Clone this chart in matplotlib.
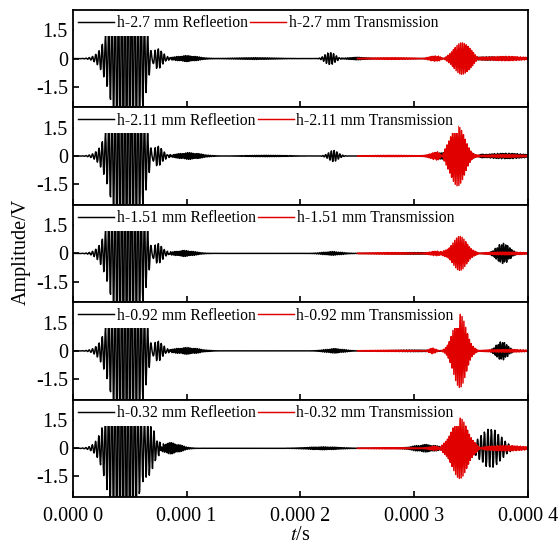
import numpy as np
import matplotlib.pyplot as plt
from matplotlib.ticker import FixedLocator

plt.rcParams['font.family'] = 'Liberation Serif'
plt.rcParams['mathtext.fontset'] = 'stix'

# thickness of each specimen (mm), top panel first
thickness = ['2.7', '2.11', '1.51', '0.92', '0.32']

# sampled time base and the moment the transmitted record begins
fs = 2.5e6
t_end = 4e-4
t_trans = 2.5e-4

# wave packets of each record: (centre s, peak V, half-width s, freq Hz, shape power)
refl_packets = [
    [(4.8e-5, 6.0, 1.55e-5, 3.5e5, 2), (7.2e-5, 0.7, 7e-6, 3.8e5, 2), (1.0e-4, 0.16, 1.4e-5, 6.5e5, 2),
     (1.6e-4, 0.05, 2.5e-5, 6.5e5, 2), (2.26e-4, 0.35, 6e-6, 4.0e5, 2), (2.5e-4, 0.07, 1.2e-5, 6.5e5, 2),
     (3.7e-4, 0.1, 3e-5, 7e5, 2)],
    [(4.8e-5, 6.0, 1.55e-5, 3.5e5, 2), (7.2e-5, 0.7, 7e-6, 3.8e5, 2), (1.02e-4, 0.18, 1.5e-5, 6.5e5, 2),
     (1.7e-4, 0.04, 2.5e-5, 6.5e5, 2), (2.29e-4, 0.3, 6e-6, 4.0e5, 2), (3.35e-4, 0.35, 1.5e-5, 6e5, 2),
     (3.8e-4, 0.15, 2.5e-5, 7e5, 2)],
    [(4.8e-5, 6.0, 1.55e-5, 3.5e5, 2), (7.2e-5, 0.7, 7e-6, 3.8e5, 2), (9.8e-5, 0.16, 1.3e-5, 6.5e5, 2),
     (2.28e-4, 0.1, 1.2e-5, 6.0e5, 2), (3.0e-4, 0.05, 2.5e-5, 7e5, 2), (3.78e-4, 0.55, 8e-6, 5.5e5, 2)],
    [(4.8e-5, 6.0, 1.55e-5, 3.5e5, 2), (7.2e-5, 0.7, 7e-6, 3.8e5, 2), (1.0e-4, 0.18, 1.5e-5, 6.5e5, 2),
     (2.3e-4, 0.12, 1.2e-5, 6.0e5, 2), (3.0e-4, 0.05, 2.5e-5, 7e5, 2), (3.77e-4, 0.5, 7e-6, 5.5e5, 2)],
    [(4.5e-5, 6.0, 1.5e-5, 3.5e5, 2), (6.8e-5, 0.8, 7e-6, 3.8e5, 2), (8.6e-5, 0.3, 1.2e-5, 6.0e5, 2),
     (2.2e-4, 0.08, 2.0e-5, 6.5e5, 2), (3.1e-4, 0.2, 1.5e-5, 6.0e5, 2), (3.67e-4, 1.05, 1.3e-5, 3.3e5, 2)],
]

trans_packets = [
    [(2.8e-4, 0.05, 3e-5, 7e5, 2), (3.18e-4, 0.15, 8e-6, 7e5, 2), (3.42e-4, 0.85, 1.0e-5, 6.2e5, 2),
     (3.8e-4, 0.12, 2.5e-5, 7e5, 2)],
    [(2.8e-4, 0.04, 3e-5, 7e5, 2), (3.2e-4, 0.2, 8e-6, 7e5, 2), (3.38e-4, 1.6, 9e-6, 6.2e5, 2),
     (3.8e-4, 0.08, 2.5e-5, 7e5, 2)],
    [(2.8e-4, 0.05, 3e-5, 7e5, 2), (3.2e-4, 0.12, 8e-6, 7e5, 2), (3.4e-4, 0.9, 9e-6, 6.2e5, 2),
     (3.8e-4, 0.08, 2.5e-5, 7e5, 2)],
    [(2.8e-4, 0.04, 3e-5, 7e5, 2), (3.16e-4, 0.15, 4e-6, 7e5, 2), (3.4e-4, 1.95, 8e-6, 6.2e5, 2),
     (3.8e-4, 0.08, 2.5e-5, 7e5, 2)],
    [(2.8e-4, 0.04, 3e-5, 7e5, 2), (3.2e-4, 0.12, 8e-6, 7e5, 2), (3.4e-4, 1.6, 1.0e-5, 6.2e5, 2),
     (3.8e-4, 0.15, 2.5e-5, 7e5, 2)],
]

xticks = [0, 1e-4, 2e-4, 3e-4, 4e-4]
xtick_labels = ['0.000 0', '0.000 1', '0.000 2', '0.000 3', '0.000 4']
yticks = [-1.5, 0, 1.5]


def record(t, packets):
    y = np.zeros_like(t)
    for t0, amp, w, f, p in packets:
        env = amp * np.exp(-np.abs((t - t0) / w) ** p)
        y += env * np.sin(2 * np.pi * f * (t - t0))
    return y


t = np.arange(0, t_end + 1 / fs, 1 / fs)
tt = t[t >= t_trans]

fig, axes = plt.subplots(5, 1, figsize=(5.6, 5.47), dpi=100, sharex=True)
fig.subplots_adjust(left=0.13, right=0.943, top=0.982, bottom=0.0914, hspace=0)

for i, ax in enumerate(axes):
    ax.plot(t, record(t, refl_packets[i]), color='black', lw=1.05,
            label=f'h-{thickness[i]} mm Refleetion')
    ax.plot(tt, record(tt, trans_packets[i]), color='#e00000', lw=1.05,
            label=f'h-{thickness[i]} mm Transmission')
    ax.set_xlim(0, t_end)
    ax.set_ylim(-2.6, 2.6)
    ax.yaxis.set_major_locator(FixedLocator(yticks))
    ax.set_yticklabels(['-1.5', '0', '1.5'])
    ax.tick_params(axis='both', direction='in', labelsize=14.5, width=1.2, length=4.5,
                   top=False, right=False)
    ax.tick_params(axis='x', pad=7)
    for s in ax.spines.values():
        s.set_linewidth(1.3)
        s.set_zorder(10)
    leg = ax.legend(loc='upper left', ncol=2, fontsize=11.3, frameon=True,
                    handlelength=2.3, handletextpad=0.15, columnspacing=0.15,
                    borderpad=0.3, borderaxespad=0.05, fancybox=False)
    leg.get_frame().set_linewidth(0)
    leg.get_frame().set_alpha(1)

axes[-1].set_xticks(xticks)
axes[-1].set_xticklabels(xtick_labels)
axes[-1].set_xlabel('$t$/s', fontsize=14.5, labelpad=0)
fig.text(0.038, 0.54, 'Amplitude/V', rotation=90, ha='center', va='center', fontsize=14.5)

fig.savefig('out.png', dpi=100)
